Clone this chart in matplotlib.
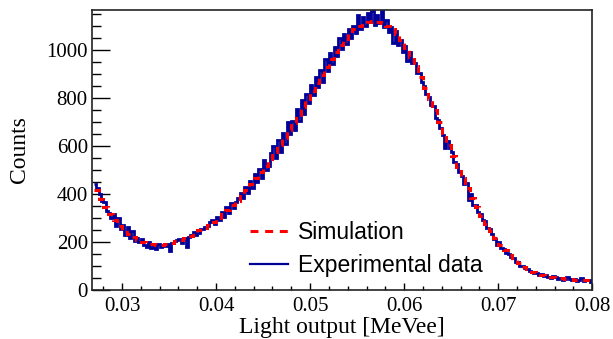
import numpy as np
import matplotlib
matplotlib.use("Agg")
import matplotlib.pyplot as plt
from matplotlib.ticker import MultipleLocator
from matplotlib.lines import Line2D

# Binning
x_start, x_stop = 0.027, 0.080
sim_bin_width = 0.0005
exp_bin_width = 0.00025

# Simulation counts (bin width 0.0005)
simulation = [
    415, 380, 345, 318, 292, 268, 250, 233, 220, 210,
    202, 195, 191, 189, 189, 192, 197, 203, 210, 218,
    227, 237, 248, 259, 272, 285, 300, 316, 334, 352,
    372, 393, 417, 441, 467, 492, 518, 546, 575, 604,
    635, 665, 697, 729, 762, 795, 828, 862, 896, 929,
    961, 991, 1020, 1046, 1069, 1087, 1101, 1111, 1117, 1119,
    1117, 1111, 1100, 1085, 1065, 1040, 1008, 972, 932, 888,
    842, 795, 748, 700, 652, 605, 558, 512, 468, 425,
    384, 345, 309, 275, 244, 215, 189, 166, 145, 127,
    111, 97, 86, 77, 69, 63, 58, 54, 51, 48,
    46, 45, 43, 42, 41, 40,
]

# Experimental counts (bin width 0.00025)
experimental = [
    440, 425, 400, 372, 365, 330, 322, 300, 318, 268,
    300, 252, 270, 230, 262, 218, 245, 205, 215, 198,
    212, 188, 180, 200, 176, 188, 172, 192, 178, 185,
    184, 190, 162, 195, 204, 210, 212, 195, 215, 180,
    222, 228, 240, 230, 238, 252, 255, 262, 268, 285,
    292, 275, 302, 290, 325, 305, 345, 322, 362, 340,
    365, 385, 405, 382, 428, 405, 455, 425, 485, 450,
    505, 465, 540, 500, 515, 570, 600, 550, 625, 575,
    655, 610, 700, 650, 705, 665, 755, 705, 790, 735,
    815, 780, 855, 810, 885, 845, 915, 865, 960, 910,
    985, 940, 1010, 975, 1050, 1005, 1065, 1025, 1085, 1050,
    1100, 1070, 1145, 1085, 1135, 1100, 1155, 1115, 1160, 1105,
    1145, 1110, 1162, 1095, 1125, 1075, 1095, 1030, 1080, 1020,
    1040, 990, 1015, 955, 990, 945, 945, 905, 905, 865,
    850, 815, 805, 770, 765, 715, 710, 675, 645, 590,
    620, 590, 575, 535, 525, 490, 475, 440, 445, 375,
    400, 355, 355, 325, 315, 290, 288, 258, 252, 232,
    212, 188, 198, 175, 172, 156, 152, 138, 132, 116,
    117, 102, 101, 90, 89, 79, 76, 71, 71, 64,
    67, 57, 61, 54, 52, 57, 54, 47, 51, 43,
    47, 56, 44, 41, 46, 39, 41, 50, 37, 43,
    40, 35,
]

x_ticks = [0.03, 0.04, 0.05, 0.06, 0.07, 0.08]
x_tick_labels = ["0.03", "0.04", "0.05", "0.06", "0.07", "0.08"]
y_ticks = [0, 200, 400, 600, 800, 1000]
y_tick_labels = ["0", "200", "400", "600", "800", "1000"]

sim_edges = x_start + sim_bin_width * np.arange(len(simulation) + 1)
exp_edges = x_start + exp_bin_width * np.arange(len(experimental) + 1)

fig = plt.figure(figsize=(6.13, 3.39), dpi=100)
ax = fig.add_axes([0.150, 0.1445, 0.816, 0.826])

ax.stairs(experimental, exp_edges, color="#000099", linewidth=2.0,
          label="Experimental data", baseline=None, zorder=2)
ax.stairs(simulation, sim_edges, color="#ff0000", linewidth=2.2,
          linestyle=(0, (2.2, 1.8)), label="Simulation", baseline=None, zorder=3)

ax.set_xlim(0.0268, 0.0800)
ax.set_ylim(0, 1166)

serif = ["Liberation Serif", "DejaVu Serif"]
ax.set_xticks(x_ticks)
ax.set_xticklabels(x_tick_labels, family=serif, fontsize=15)
ax.set_yticks(y_ticks)
ax.set_yticklabels(y_tick_labels, family=serif, fontsize=15)
ax.xaxis.set_minor_locator(MultipleLocator(0.002))
ax.yaxis.set_minor_locator(MultipleLocator(50))

ax.tick_params(axis="x", which="major", direction="in", length=5, width=1.0, pad=5,
               top=False)
ax.tick_params(axis="x", which="minor", direction="in", length=3, width=1.0, top=False)
ax.tick_params(axis="y", which="major", direction="in", length=13, width=1.0, pad=3,
               right=False)
ax.tick_params(axis="y", which="minor", direction="in", length=6.5, width=1.0, right=False)

for s in ax.spines.values():
    s.set_linewidth(1.2)
    s.set_color("#222222")

ax.set_xlabel("Light output [MeVee]", family=serif, fontsize=17, labelpad=1)
ax.set_ylabel("Counts", family=serif, fontsize=17, labelpad=12)

h_sim = Line2D([], [], color="#ff0000", linewidth=2.2, linestyle=(0, (2.6, 2.2)))
h_exp = Line2D([], [], color="#000099", linewidth=1.6)
leg = ax.legend([h_sim, h_exp], ["Simulation", "Experimental data"],
                loc="upper left", bbox_to_anchor=(0.315, 0.245), frameon=False,
                prop={"family": ["Liberation Sans", "DejaVu Sans"], "size": 16.5},
                handlelength=1.7, handletextpad=0.4, labelspacing=0.42,
                borderpad=0, borderaxespad=0)

fig.savefig("out.png", dpi=100)
